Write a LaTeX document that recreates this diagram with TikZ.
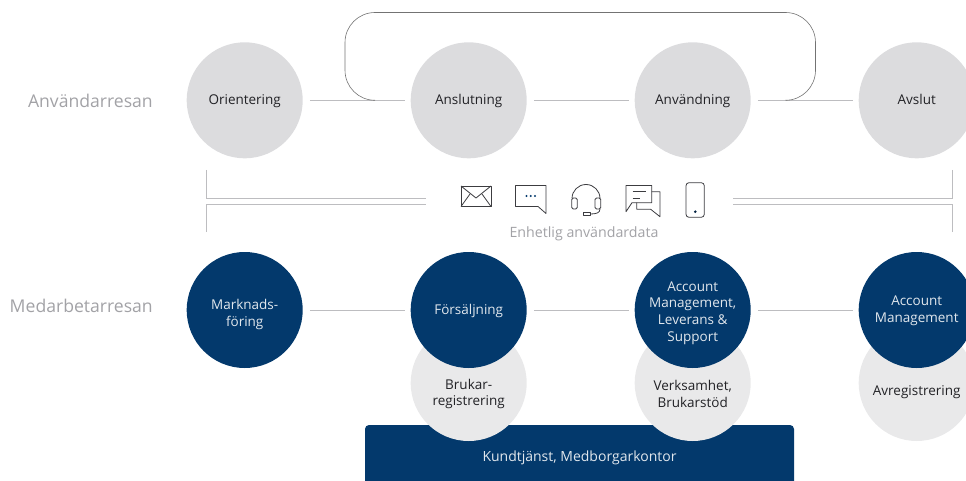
\documentclass[tikz,border=0pt]{standalone}
\usepackage{fontspec}
\setmainfont{Open Sans}
\usepackage{xcolor}
\usetikzlibrary{calc, positioning}
\definecolor{navyblue}{HTML}{03396C}
\definecolor{midgrey}{HTML}{DCDCDE}
\definecolor{lightgrey}{HTML}{E9E9EA}
\definecolor{linegrey}{HTML}{BDBDC0}
\definecolor{labelgrey}{HTML}{A2A2A6}
\definecolor{inkgrey}{HTML}{3C3C40}
\definecolor{textblack}{HTML}{222226}

\begin{document}
\begin{tikzpicture}[x=1pt, y=-1pt, font=\fontsize{13.5}{16.8}\selectfont]
        \clip (0, 0) rectangle (966, 481);

        \tikzstyle{c} = [circle, minimum size=116pt, inner sep=0pt, align=center, text depth=1pt];
        \tikzstyle{u} = [c, fill=midgrey, text=textblack];
        \tikzstyle{m} = [c, fill=navyblue, text=white!88!navyblue];
        \tikzstyle{b} = [c, fill=lightgrey, text=textblack];
        \tikzstyle{n} = [inner sep=0pt, align=center];
        \tikzstyle{t} = [n, font=\fontsize{17.6}{20}\selectfont, text=labelgrey, anchor=east];
        \tikzstyle{l} = [draw=linegrey, line width=0.9pt];
        \tikzstyle{k} = [l, shorten <=7pt, shorten >=6pt];
        \tikzstyle{i} = [draw=inkgrey, line width=0.8pt, line join=round];

        % bar under the support circles
        \path [fill=navyblue, rounded corners=4pt] (365, 490) -- (365, 425) -- (794, 425) -- (794, 490) -- cycle;
        \node [n, text=white!88!navyblue, font=\fontsize{14}{17}\selectfont] (K) at (579.5, 458) {Kundtjänst, Medborgarkontor};

        \node [t] (Ttop) at (153, 101) {Användarresan};
        \node [t] (Tbot) at (153, 306) {Medarbetarresan};

        \node [u] (U1) at (244.7, 100.3) {Orientering};
        \node [u] (U2) at (468.7, 100.3) {Anslutning};
        \node [u] (U3) at (692.7, 100.3) {Användning};
        \node [u] (U4) at (916.7, 100.3) {Avslut};

        \node [b] (B2) at (468.7, 383) { };
        \node [b] (B3) at (692.7, 383) { };
        \node [b] (B4) at (916.7, 383) { };
        \node [n, text=textblack] (Bt2) at ($(B2) + (0, 11)$) {Brukar-\\registrering};
        \node [n, text=textblack] (Bt3) at ($(B3) + (0, 11)$) {Verksamhet,\\Brukarstöd};
        \node [n, text=textblack] (Bt4) at ($(B4) + (0, 9)$) {Avregistrering};

        \node [m] (M1) at (244.7, 310) { };
        \node [m] (M2) at (468.7, 310) {Försäljning};
        \node [m] (M3) at (692.7, 310) { };
        \node [m] (M4) at (916.7, 310) {Account\\Management};
        \node [n, text=white!88!navyblue] (Mt1) at ($(M1) + (0, 4.5)$) {Marknads-\\föring};
        \node [n, text=white!88!navyblue] (Mt3) at ($(M3) + (0, 3)$) {Account\\Management,\\Leverans \&\\Support};

        \foreach \na/\nb in {1/2, 2/3, 3/4}{
            \draw [k] (U\na) -- (U\nb);
            \draw [k] (M\na) -- (M\nb);
        }

        % loop over the top row
        \coordinate (La) at (375, 100.3);
        \coordinate (Lb) at (787, 100.3);
        \draw [draw=black!55, line width=0.6pt, rounded corners=30pt]
            (La) -- (345, 100.3) -- (345, 12.5) -- (815.5, 12.5) -- (815.5, 100.3) -- (Lb);

        % brackets
        \coordinate (Ea) at (206.5, 170);
        \coordinate (Eb) at (426, 198);
        \coordinate (Ec) at (206.5, 232);
        \coordinate (Ed) at (426, 204);
        \coordinate (Fa) at (952.5, 170);
        \coordinate (Fb) at (733, 198);
        \coordinate (Fc) at (952.5, 232);
        \coordinate (Fd) at (733, 204);
        \draw [l] (Ea) |- (Eb);
        \draw [l] (Ec) |- (Ed);
        \draw [l] (Fa) |- (Fb);
        \draw [l] (Fc) |- (Fd);

        % channel icons
        \draw [i] (461, 186) rectangle (491, 206.5);
        \draw [i] (461, 186) -- (476, 198) -- (491, 186);
        \draw [i] (461, 206.5) -- (470, 194);
        \draw [i] (491, 206.5) -- (482, 194);

        \draw [i] (538, 206.5) -- (515.5, 206.5) -- (515.5, 185.5) -- (546, 185.5) -- (546, 213.5) -- cycle;
        \foreach \na in {526.5, 530.7, 535}{
            \fill [navyblue] (\na, 196) circle (1.2pt);
        }

        \draw [i] (572, 198.5) arc [start angle=180, end angle=0, radius=14pt];
        \draw [i, rounded corners=1.5pt] (571.7, 198) rectangle (577.3, 209);
        \draw [i, rounded corners=1.5pt] (595, 198) rectangle (600.7, 209);
        \draw [i] (600, 209) .. controls (600, 213) and (596, 214) .. (590, 214);
        \draw [i] (583.5, 212.7) rectangle (590, 215.5);

        \draw [i] (632, 202.7) -- (626, 211.7) -- (626, 185.5) -- (651.7, 185.5) -- (651.7, 202.7) -- cycle;
        \draw [i] (632.7, 191.7) -- (646, 191.7);
        \draw [i] (632.7, 198.3) -- (640, 198.3);
        \draw [i] (651.7, 191.7) -- (660, 191.7) -- (660, 216.7) -- (650.7, 209.3) -- (636.7, 209.3) -- (636.7, 202.7);

        \draw [i, rounded corners=3pt] (686, 182.7) rectangle (704.3, 217.3);
        \fill [navyblue!60!black] (695.3, 211.7) circle (1.4pt);

        \node [n, text=labelgrey, font=\fontsize{14.2}{17}\selectfont] (D) at (584, 234) {Enhetlig användardata};
\end{tikzpicture}
\end{document}
